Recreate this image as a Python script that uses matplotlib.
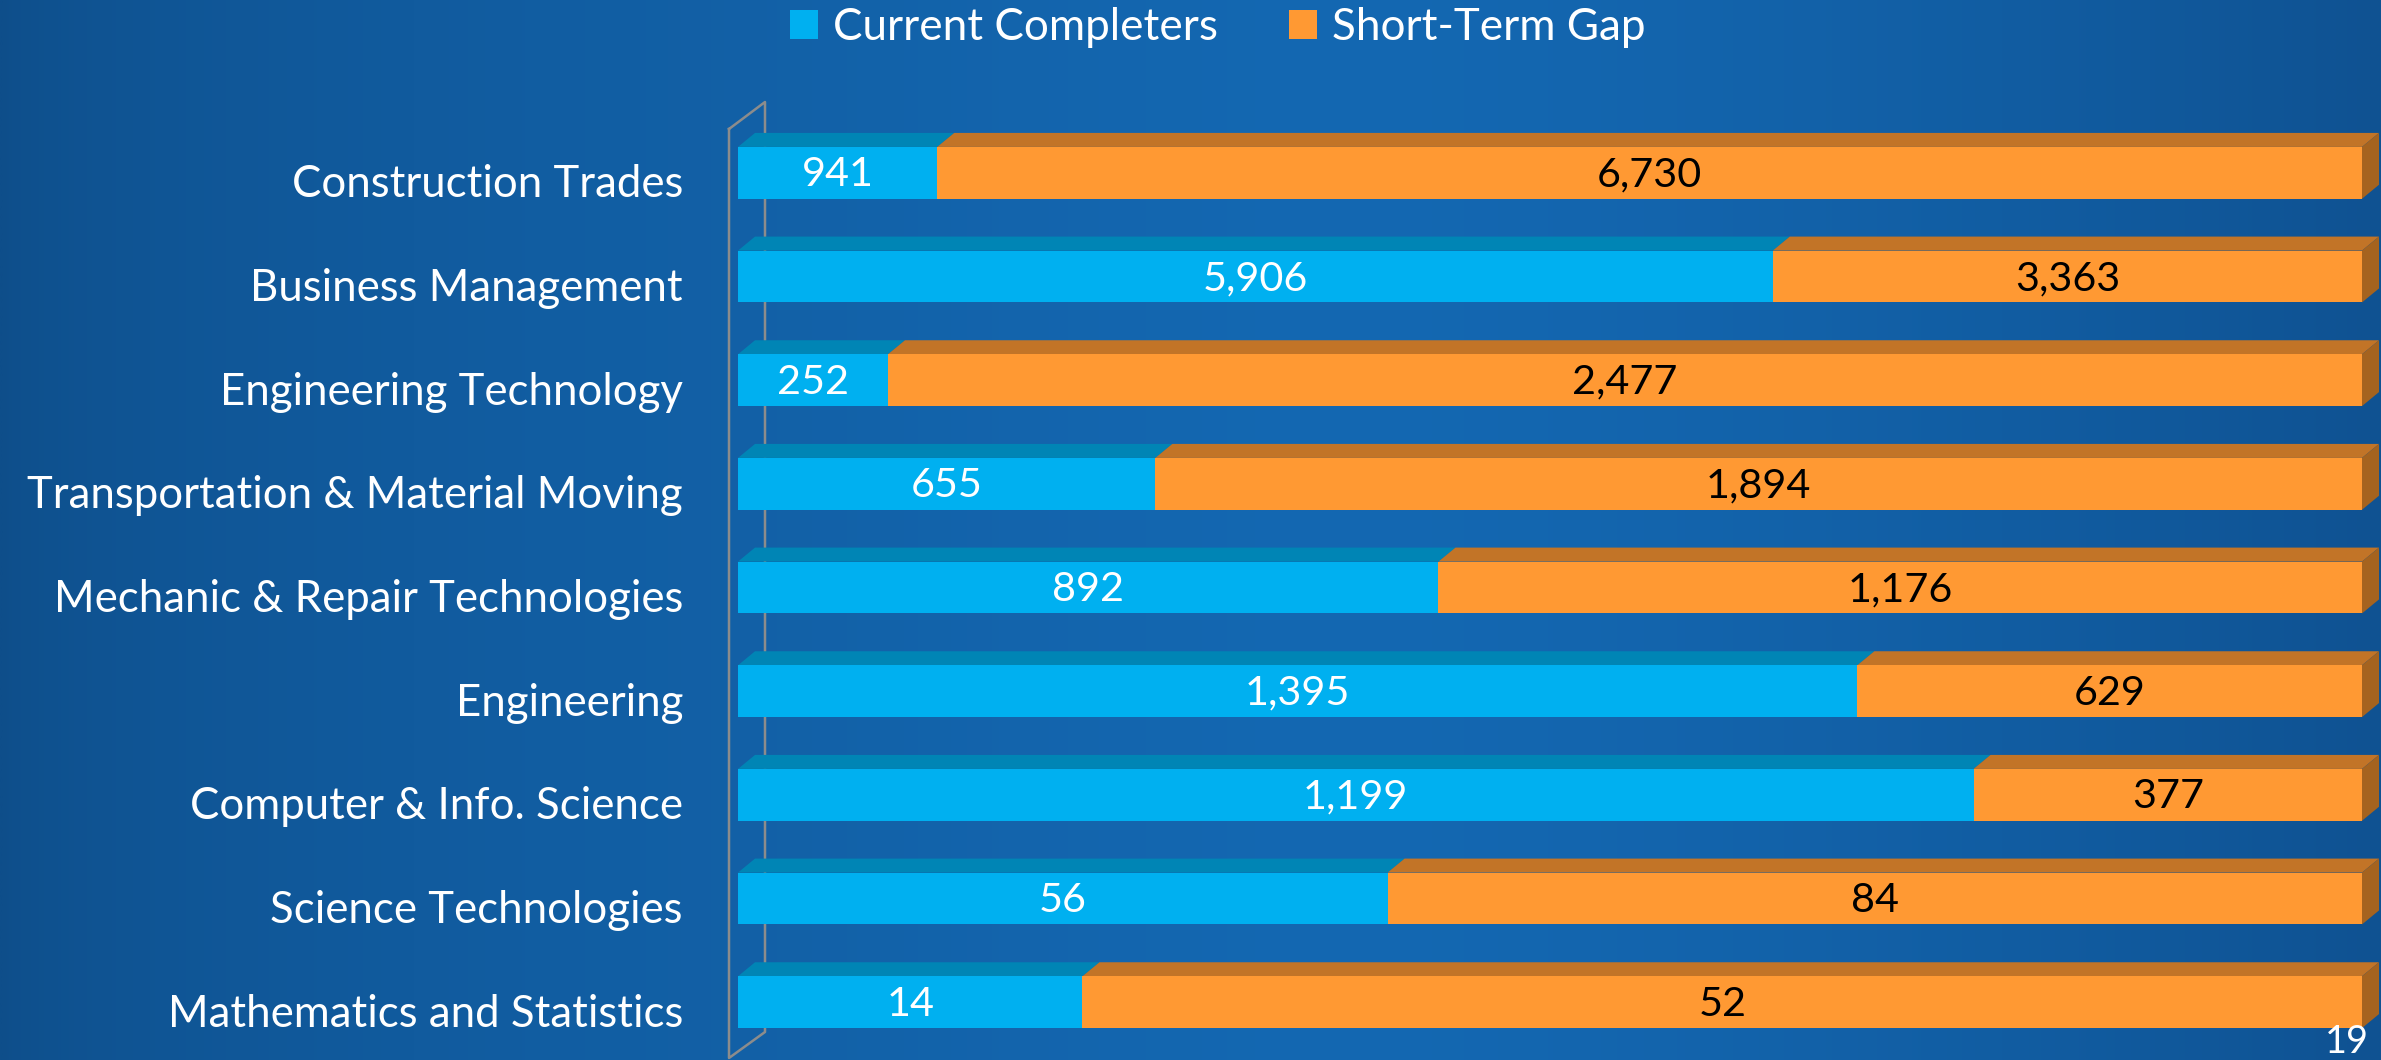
import numpy as np
import matplotlib
matplotlib.use('Agg')
import matplotlib.pyplot as plt
from matplotlib import font_manager
from matplotlib.patches import Polygon, Patch
from matplotlib.lines import Line2D
from matplotlib.transforms import IdentityTransform, ScaledTranslation

categories = ['Construction Trades', 'Business Management', 'Engineering Technology',
              'Transportation & Material Moving', 'Mechanic & Repair Technologies',
              'Engineering', 'Computer & Info. Science', 'Science Technologies',
              'Mathematics and Statistics']
current = [941, 5906, 252, 655, 892, 1395, 1199, 56, 14]
gap = [6730, 3363, 2477, 1894, 1176, 629, 377, 84, 52]
series_names = ['Current Completers', 'Short-Term Gap']
page_number = '19'

names = {f.name for f in font_manager.fontManager.ttflist}
FONT = next((n for n in ['Liberation Sans Narrow', 'Lato', 'Open Sans'] if n in names), 'DejaVu Sans')
plt.rcParams['font.family'] = [FONT, 'DejaVu Sans']

W, H, DPI = 2381, 1060, 100
fig = plt.figure(figsize=(W / DPI, H / DPI), dpi=DPI)
renderer = fig.canvas.get_renderer()

def fit_size(text, target_px, base=30):
    t = fig.text(0, 0, text, fontsize=base)
    w = t.get_window_extent(renderer).width
    t.remove()
    return base * target_px / w

cat_size = fit_size('Construction Trades', 391)
val_size = fit_size('2,477', 105)
leg_size = fit_size('Current Completers', 383)
page_size = fit_size('19', 44)

# background gradient
bg = fig.add_axes([0, 0, 1, 1], zorder=-10)
xs = np.linspace(0, 1, 400)
c_edge_l = np.array([14, 78, 138]) / 255
c_mid = np.array([20, 104, 178]) / 255
c_edge_r = np.array([15, 82, 146]) / 255
grad = np.zeros((2, len(xs), 3))
for k, x in enumerate(xs):
    if x < 0.55:
        f = (x / 0.55) ** 0.6
        col = c_edge_l * (1 - f) + c_mid * f
    else:
        f = ((x - 0.55) / 0.45) ** 1.6
        col = c_mid * (1 - f) + c_edge_r * f
    grad[:, k, :] = col
bg.imshow(grad, aspect='auto', extent=[0, 1, 0, 1], interpolation='bilinear')
bg.axis('off')

# main axes
ax_left, ax_right = 738, 2362
ax_top, ax_bottom = 121, 1054
ax = fig.add_axes([ax_left / W, 1 - ax_bottom / H, (ax_right - ax_left) / W, (ax_bottom - ax_top) / H])
ax.set_facecolor('none')
n = len(categories)
y = np.arange(n)
ax.set_xlim(0, 1)
ax.set_ylim(n - 0.5, -0.5)
for s in ax.spines.values():
    s.set_visible(False)
ax.set_xticks([])
ax.set_yticks(y)
ax.set_yticklabels(categories, color='white', fontsize=cat_size)
ax.tick_params(axis='y', length=0, pad=55 * 72 / DPI)
shift = ScaledTranslation(0, -8 / DPI, fig.dpi_scale_trans)
for lab in ax.get_yticklabels():
    lab.set_transform(lab.get_transform() + shift)

cur = np.array(current, float)
gp = np.array(gap, float)
tot = cur + gp
frac_c = cur / tot
frac_g = gp / tot

bar_h = 0.5
px_x = (ax_right - ax_left)
px_y = (ax_bottom - ax_top) / n
ddx = 17 / px_x
ddy = 14 / px_y

front_cols = ['#00B0F0', '#FF9933']
top_cols = ['#0085B5', '#C27427']
side_col = '#A5631F'

# wall (frame)
fig.canvas.draw()
x0, _ = ax.transData.transform((0, 0))
axb = ax.get_window_extent()
wall_col = '#8C8C8C'
fx, bx = x0 - 9, x0 + 27
wall_x = [fx, bx, bx, fx, fx]
wall_y = [axb.y1 - 8, axb.y1 + 19, axb.y0 + 22, axb.y0 - 4, axb.y1 - 8]
ax.add_line(Line2D(wall_x, wall_y, transform=IdentityTransform(), color=wall_col,
                   lw=1.8, zorder=0.5, clip_on=False))

lefts = [np.zeros(n), frac_c]
widths = [frac_c, frac_g]
raw = [cur, gp]
txt_cols = ['white', 'black']
vshift = ScaledTranslation(0, -2 / DPI, fig.dpi_scale_trans)
for s in range(2):
    ax.barh(y, widths[s], left=lefts[s], height=bar_h, color=front_cols[s],
            edgecolor='none', zorder=3, label=series_names[s])
    for i in range(n):
        l, w = lefts[s][i], widths[s][i]
        yt = y[i] - bar_h / 2
        ax.add_patch(Polygon([(l, yt), (l + w, yt), (l + w + ddx, yt - ddy), (l + ddx, yt - ddy)],
                             closed=True, facecolor=top_cols[s], edgecolor='none',
                             zorder=2, clip_on=False))
        ax.text(l + w / 2, y[i], f'{int(raw[s][i]):,}', ha='center', va='center',
                color=txt_cols[s], fontsize=val_size, zorder=5,
                transform=ax.transData + vshift)

for i in range(n):
    yt = y[i] - bar_h / 2
    yb = y[i] + bar_h / 2
    r = lefts[1][i] + widths[1][i]
    ax.add_patch(Polygon([(r, yt), (r + ddx, yt - ddy), (r + ddx, yb - ddy), (r, yb)],
                         closed=True, facecolor=side_col, edgecolor='none',
                         zorder=2, clip_on=False))

# legend
hs = 28 / (leg_size * DPI / 72)
handles = [Patch(facecolor=c, edgecolor='none') for c in front_cols]
leg = fig.legend(handles, series_names, loc='center', bbox_to_anchor=(0.5115, 1 - 27 / H),
                 ncol=2, frameon=False, fontsize=leg_size, labelcolor='white',
                 handlelength=hs, handleheight=hs, handletextpad=0.35, columnspacing=1.6)

fig.text(2347 / W, 1 - 1042 / H, page_number, color='white', fontsize=page_size,
         ha='center', va='center')

fig.savefig('out.png', dpi=DPI)
